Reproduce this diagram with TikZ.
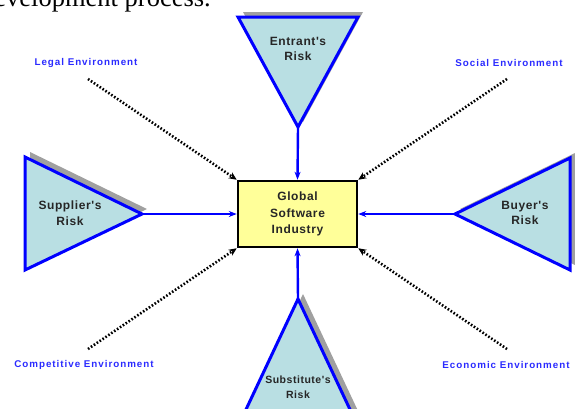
\documentclass[tikz,border=0pt]{standalone}
\usepackage{fontspec}
\setmainfont{Liberation Sans}
\newfontfamily\docserif{Liberation Serif}
\newfontfamily\spacedsans[LetterSpace=10]{Liberation Sans}
\newfontfamily\riskfont[LetterSpace=5]{Liberation Sans}
\usetikzlibrary{arrows.meta}
\definecolor{triblue}{HTML}{B9DFE3}
\definecolor{shadegray}{HTML}{A0A0A0}
\definecolor{boxyellow}{HTML}{FFFF99}
\definecolor{labelblue}{HTML}{2A2AFF}
\begin{document}
\begin{tikzpicture}[x=1pt,y=-1pt,
  tribox/.style={draw=blue, line width=3pt, fill=triblue, line join=miter},
  shadowfill/.style={fill=shadegray},
  risk/.style={font=\riskfont\bfseries\fontsize{12}{15.5}\selectfont, align=center, text=black!85, inner sep=0pt},
  envlabel/.style={font=\spacedsans\bfseries\fontsize{9.8}{11}\selectfont, text=labelblue, inner sep=0pt},
  flow/.style={draw=blue, line width=2.4pt, -{Stealth[length=8pt,width=6pt]}},
  envarrow/.style={draw=black, line width=2.6pt, dash pattern=on 1.6pt off 1.9pt, -{Stealth[length=8pt,width=7pt]}}
]
\useasboundingbox (0,0) rectangle (575,408);

% clipped document text at top
\node[font=\docserif\fontsize{26.5}{31}\selectfont, anchor=base east, inner sep=0pt] (doctext) at (211,6) {development process.};

% shadows
\fill[shadowfill] (243,12) -- (363,12) -- (303,122) -- cycle;
\fill[shadowfill] (30,152) -- (30,265) -- (147,209) -- cycle;
\fill[shadowfill] (575,153) -- (575,265) -- (460,209) -- cycle;
\fill[shadowfill] (303,294) -- (359,413) -- (247,413) -- cycle;

% triangles
\draw[tribox] (238,17) -- (358,17) -- (298,127) -- cycle;
\draw[tribox] (25,157) -- (25,270) -- (142,214) -- cycle;
\draw[tribox] (570,158) -- (570,270) -- (455,214) -- cycle;
\draw[tribox] (298,299) -- (354,418) -- (242,418) -- cycle;

\coordinate (topapex) at (298,127);
\coordinate (leftapex) at (142,214);
\coordinate (rightapex) at (455,214);
\coordinate (bottomapex) at (298,299);

% risk labels
\node[risk] (entrant) at (298,49) {Entrant's\\Risk};
\node[risk] (supplier) at (70,213) {Supplier's\\Risk};
\node[risk] (buyer) at (525,213) {Buyer's\\Risk};
\node[risk, font=\riskfont\bfseries\fontsize{10.5}{15}\selectfont] (substitute) at (298,387) {Substitute's\\Risk};

% central box
\node[draw=black, line width=2.5pt, fill=boxyellow, minimum width=119pt, minimum height=66pt,
      font=\riskfont\bfseries\fontsize{12}{16.5}\selectfont, align=center, text=black!85] (box) at (297.5,214) {Global\\Software\\Industry};

% flows
\draw[flow] (topapex) -- (box.north);
\draw[flow] (bottomapex) -- (box.south);
\draw[flow] (leftapex) -- (box.west);
\draw[flow] (rightapex) -- (box.east);

% environment labels
\node[envlabel] (legal) at (86,63) {Legal Environment};
\node[envlabel] (social) at (509,63) {Social Environment};
\node[envlabel] (competitive) at (84,365) {Competitive Environment};
\node[envlabel] (economic) at (506,365) {Economic Environment};

\coordinate (legalstart) at (88,79);
\coordinate (socialstart) at (507,79);
\coordinate (compstart) at (88,349);
\coordinate (econstart) at (507,349);

\draw[envarrow] (legalstart) -- (box.north west);
\draw[envarrow] (socialstart) -- (box.north east);
\draw[envarrow] (compstart) -- (box.south west);
\draw[envarrow] (econstart) -- (box.south east);
\end{tikzpicture}
\end{document}
